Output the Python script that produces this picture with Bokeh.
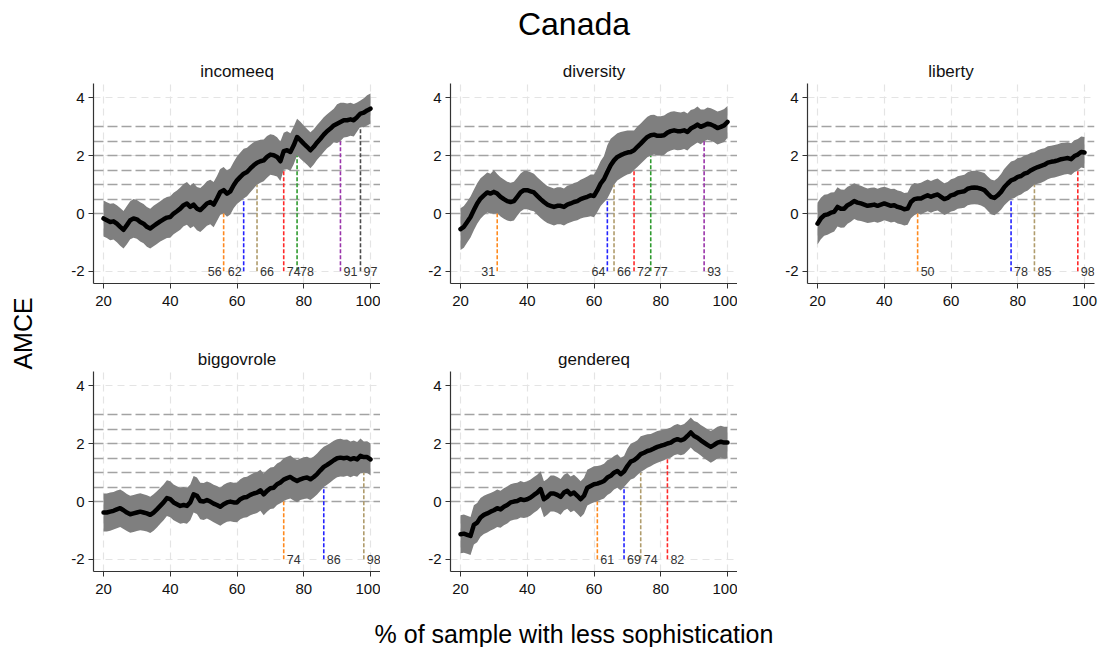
from bokeh.plotting import figure
from bokeh.models import Range1d, Title, ColumnDataSource, PrintfTickFormatter
from bokeh.layouts import row, column
from bokeh.embed import file_html
from bokeh.resources import INLINE
from bokeh.core.properties import value

FONT = "Liberation Sans"

# ---------------- data ----------------
x_pct = list(range(20, 101))

incomeeq_est = [-0.17, -0.23, -0.29, -0.27, -0.35, -0.46, -0.56, -0.40, -0.23, -0.17,
                -0.20, -0.29, -0.35, -0.46, -0.52, -0.43, -0.35, -0.27, -0.20, -0.14,
                -0.12, 0.00, 0.08, 0.17, 0.29, 0.35, 0.23, 0.31, 0.17, 0.12,
                0.23, 0.35, 0.40, 0.31, 0.52, 0.75, 0.81, 0.69, 0.77, 0.98,
                1.15, 1.27, 1.38, 1.44, 1.56, 1.67, 1.76, 1.81, 1.84, 1.96,
                2.04, 2.02, 1.96, 1.81, 2.16, 2.19, 2.13, 2.36, 2.65, 2.54,
                2.42, 2.31, 2.19, 2.31, 2.46, 2.59, 2.73, 2.85, 2.94, 3.05,
                3.11, 3.17, 3.23, 3.23, 3.26, 3.23, 3.34, 3.46, 3.49, 3.57, 3.63]
incomeeq_hw = [0.62, 0.62, 0.63, 0.63, 0.64, 0.65, 0.65, 0.66, 0.66, 0.67,
               0.67, 0.68, 0.68, 0.69, 0.69, 0.70, 0.70, 0.70, 0.71, 0.71,
               0.72, 0.72, 0.72, 0.73, 0.73, 0.74, 0.74, 0.75, 0.75, 0.76,
               0.76, 0.77, 0.77, 0.78, 0.78, 0.79, 0.80, 0.80, 0.80, 0.80,
               0.82, 0.84, 0.86, 0.84, 0.82, 0.80, 0.76, 0.74, 0.72, 0.72,
               0.70, 0.70, 0.68, 0.68, 0.64, 0.66, 0.65, 0.65, 0.63, 0.64,
               0.63, 0.62, 0.62, 0.61, 0.60, 0.60, 0.60, 0.59, 0.59, 0.58,
               0.67, 0.66, 0.60, 0.58, 0.57, 0.56, 0.50, 0.45, 0.50, 0.52, 0.52]
incomeeq_cross = [56, 62, 66, 74, 78, 91, 97]

diversity_est = [-0.54, -0.46, -0.29, -0.12, 0.12, 0.35, 0.52, 0.63, 0.73, 0.69,
                 0.75, 0.69, 0.58, 0.50, 0.43, 0.40, 0.43, 0.58, 0.73, 0.81,
                 0.81, 0.77, 0.73, 0.61, 0.50, 0.40, 0.31, 0.27, 0.23, 0.27,
                 0.27, 0.23, 0.31, 0.35, 0.40, 0.43, 0.50, 0.54, 0.58, 0.63,
                 0.61, 0.81, 1.04, 1.19, 1.44, 1.67, 1.84, 1.96, 2.02, 2.07,
                 2.11, 2.13, 2.19, 2.31, 2.42, 2.54, 2.65, 2.71, 2.73, 2.69,
                 2.69, 2.71, 2.80, 2.85, 2.88, 2.85, 2.85, 2.88, 2.82, 2.94,
                 3.00, 3.08, 3.00, 3.05, 3.11, 3.08, 3.03, 2.96, 3.00, 3.05, 3.17]
diversity_hw = [0.72, 0.72, 0.71, 0.71, 0.70, 0.70, 0.70, 0.69, 0.69, 0.69,
                0.76, 0.68, 0.68, 0.68, 0.67, 0.67, 0.67, 0.66, 0.66, 0.66,
                0.66, 0.66, 0.65, 0.65, 0.65, 0.65, 0.64, 0.64, 0.64, 0.64,
                0.64, 0.64, 0.65, 0.65, 0.66, 0.66, 0.67, 0.68, 0.70, 0.72,
                0.74, 0.76, 0.78, 0.80, 0.92, 0.92, 0.84, 0.82, 0.80, 0.78,
                0.76, 0.74, 0.68, 0.70, 0.70, 0.70, 0.70, 0.70, 0.69, 0.68,
                0.68, 0.68, 0.67, 0.67, 0.66, 0.66, 0.65, 0.65, 0.64, 0.64,
                0.62, 0.62, 0.60, 0.55, 0.56, 0.56, 0.56, 0.57, 0.57, 0.57, 0.55]
diversity_cross = [31, 64, 66, 72, 77, 93]

liberty_est = [-0.35, -0.17, -0.06, -0.03, 0.03, 0.06, 0.23, 0.17, 0.17, 0.29,
               0.35, 0.43, 0.38, 0.35, 0.31, 0.27, 0.29, 0.31, 0.27, 0.31,
               0.35, 0.31, 0.27, 0.29, 0.23, 0.20, 0.15, 0.17, 0.40, 0.50,
               0.52, 0.52, 0.58, 0.63, 0.58, 0.63, 0.66, 0.58, 0.50, 0.54,
               0.63, 0.66, 0.73, 0.75, 0.77, 0.86, 0.89, 0.90, 0.89, 0.86,
               0.81, 0.69, 0.58, 0.54, 0.63, 0.75, 0.92, 1.04, 1.15, 1.19,
               1.27, 1.30, 1.38, 1.42, 1.50, 1.56, 1.61, 1.65, 1.69, 1.76,
               1.79, 1.81, 1.84, 1.88, 1.90, 1.92, 1.88, 1.99, 2.04, 2.13, 2.11]
liberty_hw = [0.72, 0.72, 0.71, 0.70, 0.70, 0.68, 0.68, 0.66, 0.65, 0.64,
              0.63, 0.62, 0.62, 0.61, 0.60, 0.60, 0.60, 0.59, 0.59, 0.59,
              0.58, 0.58, 0.58, 0.57, 0.57, 0.57, 0.56, 0.56, 0.56, 0.56,
              0.52, 0.55, 0.55, 0.55, 0.55, 0.55, 0.55, 0.55, 0.55, 0.55,
              0.56, 0.56, 0.56, 0.57, 0.57, 0.57, 0.58, 0.58, 0.58, 0.58,
              0.59, 0.59, 0.60, 0.60, 0.60, 0.62, 0.63, 0.64, 0.65, 0.65,
              0.65, 0.64, 0.63, 0.62, 0.60, 0.56, 0.58, 0.58, 0.57, 0.57,
              0.56, 0.56, 0.56, 0.56, 0.55, 0.55, 0.55, 0.55, 0.54, 0.54, 0.54]
liberty_cross = [50, 78, 85, 98]

biggovrole_est = [-0.38, -0.38, -0.35, -0.32, -0.27, -0.23, -0.30, -0.38, -0.44, -0.41,
                  -0.38, -0.35, -0.38, -0.41, -0.46, -0.38, -0.27, -0.15, -0.03, 0.12,
                  0.08, -0.03, -0.09, -0.15, -0.12, -0.15, -0.03, 0.25, 0.20, 0.02,
                  0.00, 0.05, 0.00, -0.07, -0.12, -0.18, -0.09, -0.03, 0.00, -0.03,
                  -0.03, 0.08, 0.14, 0.16, 0.23, 0.28, 0.31, 0.39, 0.25, 0.37,
                  0.46, 0.48, 0.60, 0.66, 0.76, 0.81, 0.85, 0.77, 0.71, 0.77,
                  0.81, 0.83, 0.77, 0.85, 0.95, 1.08, 1.20, 1.27, 1.35, 1.43,
                  1.50, 1.52, 1.50, 1.52, 1.46, 1.50, 1.46, 1.58, 1.54, 1.54, 1.46]
biggovrole_hw = [0.66, 0.66, 0.66, 0.65, 0.65, 0.65, 0.65, 0.64, 0.64, 0.64,
                 0.64, 0.64, 0.63, 0.63, 0.63, 0.63, 0.63, 0.62, 0.62, 0.62,
                 0.62, 0.62, 0.62, 0.62, 0.62, 0.62, 0.62, 0.63, 0.63, 0.63,
                 0.64, 0.64, 0.65, 0.65, 0.66, 0.66, 0.67, 0.67, 0.68, 0.68,
                 0.69, 0.69, 0.70, 0.70, 0.70, 0.71, 0.71, 0.71, 0.72, 0.72,
                 0.72, 0.72, 0.72, 0.72, 0.74, 0.74, 0.74, 0.73, 0.73, 0.72,
                 0.72, 0.72, 0.72, 0.71, 0.71, 0.71, 0.70, 0.69, 0.68, 0.67,
                 0.66, 0.65, 0.64, 0.63, 0.62, 0.61, 0.60, 0.60, 0.54, 0.55, 0.55]
biggovrole_cross = [74, 86, 98]

gendereq_est = [-1.13, -1.11, -1.15, -1.19, -0.81, -0.73, -0.55, -0.46, -0.41, -0.35,
                -0.30, -0.23, -0.27, -0.18, -0.12, -0.03, 0.00, 0.02, 0.08, 0.05,
                0.08, 0.14, 0.23, 0.31, 0.43, 0.08, 0.16, 0.28, 0.28, 0.23,
                0.16, 0.31, 0.37, 0.25, 0.31, 0.20, 0.08, 0.20, 0.48, 0.54,
                0.60, 0.62, 0.66, 0.71, 0.83, 0.89, 1.00, 1.06, 0.95, 1.04,
                1.23, 1.38, 1.43, 1.52, 1.64, 1.69, 1.75, 1.78, 1.84, 1.89,
                1.93, 1.96, 2.01, 2.04, 2.12, 2.16, 2.12, 2.16, 2.27, 2.39,
                2.27, 2.21, 2.12, 2.04, 1.96, 1.89, 1.96, 2.04, 2.07, 2.04, 2.04]
gendereq_hw = [0.66, 0.66, 0.66, 0.66, 0.68, 0.68, 0.67, 0.66, 0.66, 0.65,
               0.65, 0.65, 0.64, 0.64, 0.64, 0.63, 0.63, 0.63, 0.63, 0.62,
               0.62, 0.62, 0.62, 0.62, 0.62, 0.62, 0.62, 0.62, 0.62, 0.62,
               0.62, 0.62, 0.62, 0.62, 0.62, 0.62, 0.62, 0.62, 0.62, 0.62,
               0.62, 0.61, 0.60, 0.60, 0.60, 0.59, 0.58, 0.58, 0.57, 0.54,
               0.60, 0.62, 0.62, 0.60, 0.62, 0.60, 0.58, 0.56, 0.55, 0.55,
               0.54, 0.53, 0.51, 0.52, 0.52, 0.52, 0.52, 0.52, 0.52, 0.52,
               0.52, 0.53, 0.53, 0.54, 0.54, 0.55, 0.55, 0.55, 0.55, 0.55, 0.55]
gendereq_cross = [61, 69, 74, 82]

thresholds = [0, 0.5, 1, 1.5, 2, 2.5, 3]
x_ticks = [20, 40, 60, 80, 100]
y_ticks = [-2, 0, 2, 4]

# ---------------- style ----------------
cross_colors = ["#ff8a1e", "#2323ff", "#b09c6c", "#ff2a2a", "#2e9a2e", "#9a34aa", "#4a4a4a"]
BAND = "#7f7f7f"
REF = "#a3a3a3"
GRID = "#e4e4e4"
FRAME_W, FRAME_H = 287, 200
label_left = {"incomeeq": {56, 62}, "diversity": {31, 64}}


def make_panel(name, est, hw, cross, border_left, border_right, border_bottom):
    p = figure(frame_width=FRAME_W, frame_height=FRAME_H,
               x_range=Range1d(17, 103), y_range=Range1d(-2.42, 4.5),
               output_backend="svg", toolbar_location=None,
               min_border_left=border_left, min_border_right=border_right,
               min_border_top=33, min_border_bottom=border_bottom,
               background_fill_color="white", border_fill_color="white",
               outline_line_color=None)
    p.title.text = name
    p.title.align = "center"
    p.title.text_font = FONT
    p.title.text_font_size = "17px"
    p.title.text_font_style = "normal"
    p.title.text_color = "#111111"
    p.title.standoff = 5

    for ax in (p.xaxis, p.yaxis):
        ax.axis_line_color = "#333333"
        ax.axis_line_width = 1.2
        ax.major_tick_line_color = "#333333"
        ax.major_tick_out = 5
        ax.major_tick_in = 0
        ax.minor_tick_out = 0
        ax.minor_tick_in = 0
        ax.major_label_text_font = FONT
        ax.major_label_text_font_size = "15px"
        ax.major_label_text_color = "#111111"
        ax.formatter = PrintfTickFormatter(format="%d")
    p.xaxis.major_label_standoff = 7
    p.yaxis.major_label_standoff = 4
    p.xaxis.ticker = x_ticks
    p.yaxis.ticker = y_ticks
    p.xgrid.ticker = x_ticks
    p.ygrid.ticker = y_ticks
    for g in (p.xgrid, p.ygrid):
        g.grid_line_color = GRID
        g.grid_line_dash = "7 5"
        g.grid_line_width = 1.2

    # reference thresholds
    p.hspan(y=thresholds, line_color=REF, line_dash="10 4", line_width=1.4)

    lower = [m - h for m, h in zip(est, hw)]
    upper = [m + h for m, h in zip(est, hw)]
    src = ColumnDataSource(dict(x=x_pct, est=est, lo=lower, hi=upper))
    p.varea(x="x", y1="lo", y2="hi", source=src, fill_color=BAND, fill_alpha=1.0)
    p.line(x="x", y="est", source=src, line_color="black", line_width=4.5,
           line_join="round", line_cap="round")

    n = len(cross)
    cs = ColumnDataSource(dict(x=cross, y0=[y_ticks[0]] * n, y1=thresholds[:n],
                               color=cross_colors[:n]))
    p.segment(x0="x", y0="y0", x1="x", y1="y1", source=cs, line_color="color",
              line_dash="4 2", line_width=1.6)

    left_set = label_left.get(name, set())
    for side in ("left", "right"):
        idx = [i for i, c in enumerate(cross) if (c in left_set) == (side == "left")]
        if not idx:
            continue
        sub = ColumnDataSource(dict(x=[cross[i] for i in idx],
                                    y=[y_ticks[0]] * len(idx),
                                    txt=[str(cross[i]) for i in idx]))
        p.text(x="x", y="y", text="txt", source=sub,
               x_offset=-2 if side == "left" else 3,
               text_align="right" if side == "left" else "left",
               text_baseline="middle", text_font=value(FONT),
               text_font_size="12.5px", text_color="#333333")
    return p


def blank(width, height, **kw):
    p = figure(width=width, height=height, toolbar_location=None,
               output_backend="svg", x_axis_location=None, y_axis_location=None,
               outline_line_color=None, min_border=0,
               background_fill_color="white", border_fill_color="white", **kw)
    p.xgrid.visible = False
    p.ygrid.visible = False
    return p


f1 = make_panel("incomeeq", incomeeq_est, incomeeq_hw, incomeeq_cross, 48, 0, 55)
f2 = make_panel("diversity", diversity_est, diversity_hw, diversity_cross, 70, 0, 55)
f3 = make_panel("liberty", liberty_est, liberty_hw, liberty_cross, 70, 8, 55)
f4 = make_panel("biggovrole", biggovrole_est, biggovrole_hw, biggovrole_cross, 48, 0, 40)
f5 = make_panel("gendereq", gendereq_est, gendereq_hw, gendereq_cross, 70, 0, 40)

top = blank(1057, 50)
top.min_border_top = 41
top.add_layout(Title(text="Canada", align="center", text_font=FONT,
                     text_font_size="32px", text_font_style="normal",
                     text_color="#000000", standoff=0), "above")

bottom = blank(1057, 36)
bottom.add_layout(Title(text="% of sample with less sophistication", align="center",
                        text_font=FONT, text_font_size="25px",
                        text_font_style="normal", text_color="#000000",
                        standoff=0), "below")

left = blank(45, 656)
left.min_border_top = 10
left.min_border_left = 36
left.add_layout(Title(text="AMCE", align="center", text_font=FONT,
                      text_font_size="25px", text_font_style="normal",
                      text_color="#000000", standoff=0), "left")

layout = row(left, column(top, row(f1, f2, f3), row(f4, f5), bottom))

open("out.html", "w").write(file_html(layout, INLINE))
